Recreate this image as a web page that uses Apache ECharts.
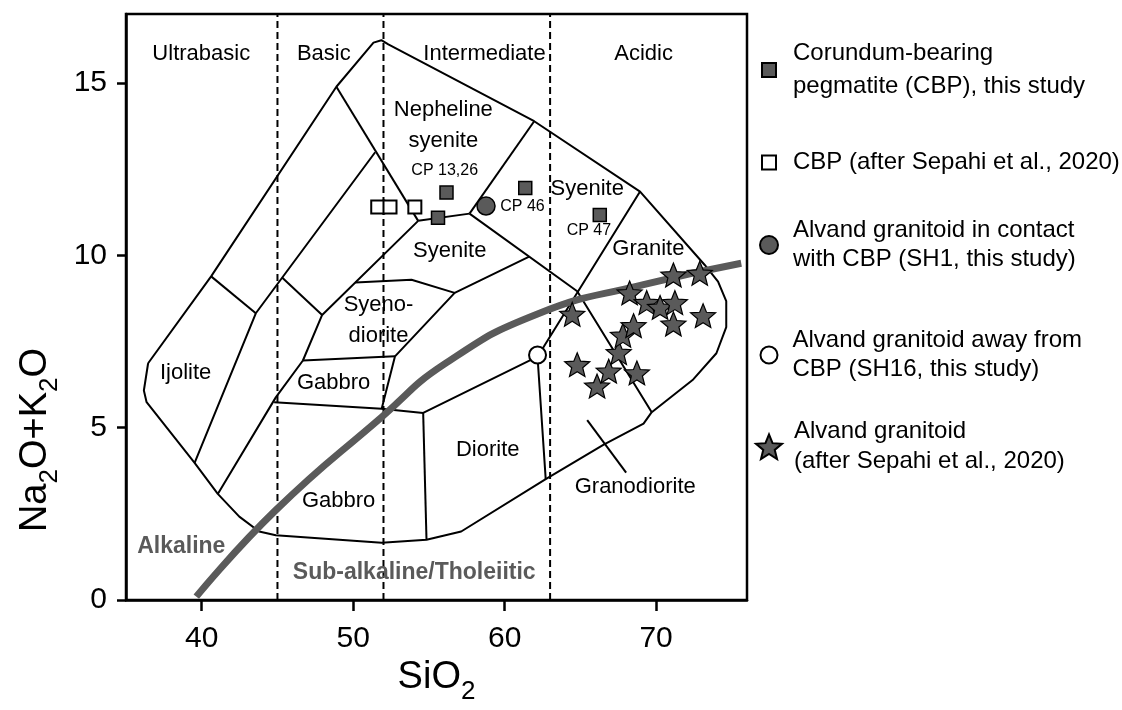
<!DOCTYPE html>
<html>
<head>
<meta charset="utf-8">
<script src="https://cdn.jsdelivr.net/npm/echarts@6/dist/echarts.min.js"></script>
<style>
  html, body { margin: 0; padding: 0; background: #fff; }
  #main { width: 1122px; height: 710px; }
</style>
</head>
<body>
<div id="main"></div>
<script>
// axis ticks
var xTicks = [40, 50, 60, 70];
var yTicks = [0, 5, 10, 15];

// SiO2 limits: ultrabasic | basic | intermediate | acidic
var silicaLimits = [45, 52, 63];

// TAS field boundaries (SiO2, Na2O+K2O)
var outerBoundary = [
  [36.46, 6.87], [40.62, 9.39], [48.89, 14.89], [51.34, 16.17], [51.86, 16.24], [52.32, 16.12],
  [61.95, 13.89], [68.94, 11.85], [73.21, 9.72], [74.09, 9.24], [74.63, 8.67], [74.63, 7.92],
  [73.98, 7.16], [72.45, 6.40], [69.71, 5.45], [69.17, 5.12], [66.54, 4.51], [62.71, 3.51],
  [57.13, 1.99], [54.84, 1.75], [51.88, 1.66], [44.89, 1.88], [43.79, 1.99], [42.48, 2.42],
  [41.06, 3.08], [39.53, 3.98], [36.36, 5.74], [36.18, 6.08], [36.46, 6.87]
];
var ijoliteTop = [[40.62, 9.39], [43.57, 8.32]];
var foidLine = [[51.45, 12.99], [43.57, 8.32], [39.53, 3.98]];
var nephSyeniteLeft = [[48.89, 14.89], [54.29, 11.00]];
var alkGabbroTop = [[45.32, 9.35], [47.95, 8.27]];
var syenodioriteLeft = [[54.29, 11.00], [47.95, 8.27], [46.68, 6.95], [44.89, 5.88], [41.06, 3.08]];
var nephSyeniteBase = [[54.29, 11.00], [57.68, 11.21]];
var syeniteDivide = [[57.68, 11.21], [61.95, 13.89]];
var graniteBase = [[57.68, 11.21], [64.79, 8.96], [69.71, 5.45]];
var syenodioriteTop = [[50.14, 9.21], [53.85, 9.29], [56.70, 8.91], [61.62, 9.96]];
var syenodioriteRight = [[56.70, 8.91], [52.76, 7.07], [51.88, 5.55]];
var gabbroTop = [[46.68, 6.95], [52.76, 7.07]];
var gabbroBase = [[44.78, 5.74], [51.88, 5.55], [54.62, 5.43], [62.17, 7.06]];
var dioriteLeft = [[54.62, 5.43], [54.84, 1.75]];
var dioriteRight = [[62.71, 3.51], [62.17, 7.06], [68.94, 11.85]];
var granodioriteLeader = [[65.45, 5.22], [68.02, 3.70]];

// alkaline / sub-alkaline divide
var alkalineDivide = [
  [39.64, 0.10], [44.89, 2.61], [51.88, 5.31], [56.04, 6.85], [62.17, 8.30], [69.17, 9.15], [75.62, 9.77]
];

// samples
var cbpThisStudy = [[56.16, 11.82], [61.36, 11.95], [66.28, 11.17], [55.60, 11.09]];
var cbpSepahi = [[51.62, 11.40], [52.43, 11.40], [54.07, 11.40]];
var sh1 = [[58.77, 11.43]];
var sh16 = [[62.17, 7.11]];
var alvandSepahi = [
  [64.46, 8.29], [64.79, 6.83], [66.10, 6.21], [66.87, 6.64], [67.53, 7.18], [67.81, 7.68],
  [68.51, 7.96], [68.73, 6.59], [68.25, 8.91], [69.38, 8.63], [70.26, 8.49], [71.24, 8.63],
  [71.14, 8.01], [71.14, 9.43], [72.88, 9.48], [73.10, 8.25]
];

// text labels [SiO2, Na2O+K2O, text]
var classLabels = [
  [39.97, 15.83, 'Ultrabasic'], [48.06, 15.83, 'Basic'], [58.67, 15.83, 'Intermediate'], [69.17, 15.83, 'Acidic']
];
var fieldLabels = [
  [55.95, 13.77, 'Nepheline\nsyenite'], [65.45, 11.92, 'Syenite'], [69.49, 10.19, 'Granite'],
  [56.37, 10.12, 'Syenite'], [51.67, 8.11, 'Syeno-\ndiorite'], [38.94, 6.59, 'Ijolite'],
  [48.71, 6.29, 'Gabbro'], [58.88, 4.36, 'Diorite'], [68.62, 3.27, 'Granodiorite'], [49.04, 2.89, 'Gabbro']
];
var sampleLabels = [[56.04, 12.47, 'CP 13,26'], [61.18, 11.40, 'CP 46'], [65.56, 10.71, 'CP 47']];
var seriesLabels = [[38.65, 1.56, 'Alkaline'], [54.03, 0.81, 'Sub-alkaline/Tholeiitic']];

var legendNames = {
  cbp: 'Corundum-bearing\npegmatite (CBP), this study',
  cbpS: 'CBP (after Sepahi et al., 2020)',
  sh1: 'Alvand granitoid in contact\nwith CBP (SH1, this study)',
  sh16: 'Alvand granitoid away from\nCBP (SH16, this study)',
  alv: 'Alvand granitoid\n(after Sepahi et al., 2020)'
};

var FONT = 'Liberation Sans, Arial, sans-serif';
var STAR = 'path://M50,0L62.93,32.2L97.55,34.55L70.92,56.8L79.39,90.45L50,72L20.61,90.45L29.08,56.8L2.45,34.55L37.07,32.2Z';
var GREY = '#5a5a5a';

var chart = echarts.init(document.getElementById('main'));

function boundary(data, extra) {
  var s = {
    type: 'line', data: data, symbol: 'none', silent: true, z: 2,
    lineStyle: { color: '#000', width: 2 }
  };
  return Object.assign(s, extra || {});
}

function textSeries(data, style) {
  return {
    type: 'scatter', data: data, symbolSize: 1, silent: true, z: 10,
    itemStyle: { color: 'transparent' },
    label: Object.assign({
      show: true, position: 'inside', color: '#000', fontFamily: FONT,
      textBorderWidth: 0, opacity: 1,
      formatter: function (p) { return p.value[2]; }
    }, style)
  };
}

var series = [];
silicaLimits.forEach(function (x) {
  series.push(boundary([[x, 0], [x, 17]], { lineStyle: { color: '#000', width: 2, type: [7, 4] } }));
});
[outerBoundary, ijoliteTop, foidLine, nephSyeniteLeft, alkGabbroTop, syenodioriteLeft, nephSyeniteBase,
 syeniteDivide, graniteBase, syenodioriteTop, syenodioriteRight, gabbroTop, gabbroBase, dioriteLeft,
 dioriteRight, granodioriteLeader].forEach(function (d) { series.push(boundary(d)); });

series.push({
  type: 'line', data: alkalineDivide, symbol: 'none', smooth: 0.5, silent: true, z: 3,
  lineStyle: { color: GREY, width: 7 }
});

series.push({
  name: 'cbp', type: 'scatter', data: cbpThisStudy, symbol: 'rect', symbolSize: 13, z: 5,
  itemStyle: { color: GREY, borderColor: '#000', borderWidth: 1.5, opacity: 1 }
});
series.push({
  name: 'cbpS', type: 'scatter', data: cbpSepahi, symbol: 'rect', symbolSize: 13, z: 5,
  itemStyle: { color: '#fff', borderColor: '#000', borderWidth: 2, opacity: 1 }
});
series.push({
  name: 'sh1', type: 'scatter', data: sh1, symbol: 'circle', symbolSize: 18, z: 5,
  itemStyle: { color: GREY, borderColor: '#000', borderWidth: 1.5, opacity: 1 }
});
series.push({
  name: 'sh16', type: 'scatter', data: sh16, symbol: 'circle', symbolSize: 17, z: 5,
  itemStyle: { color: '#fff', borderColor: '#000', borderWidth: 2, opacity: 1 }
});
series.push({
  name: 'alv', type: 'scatter', data: alvandSepahi, symbol: STAR, symbolSize: 25, symbolKeepAspect: true, z: 5,
  itemStyle: { color: GREY, borderColor: '#000', borderWidth: 1.2, opacity: 1 }
});

series.push(textSeries(classLabels, { fontSize: 22 }));
series.push(textSeries(fieldLabels, { fontSize: 22, lineHeight: 31 }));
series.push(textSeries(sampleLabels, { fontSize: 16 }));
series.push(textSeries(seriesLabels, { fontSize: 23, fontWeight: 'bold', color: GREY }));

function legendItem(name, top, size, padTop, lineHeight, padLeft) {
  return {
    data: [name], left: 768 - size / 2, top: top, padding: 0,
    itemWidth: size, itemHeight: size, selectedMode: false,
    formatter: function (n) { return legendNames[n]; },
    textStyle: {
      fontSize: 24, fontFamily: FONT, color: '#000', lineHeight: lineHeight,
      padding: [padTop, 0, 0, padLeft]
    }
  };
}

var option = {
  animation: false,
  backgroundColor: '#fff',
  grid: {
    left: 126, right: 375, top: 14, bottom: 98,
    show: true, borderColor: '#000', borderWidth: 2.5, backgroundColor: 'transparent'
  },
  xAxis: {
    type: 'value', min: 35, max: 76,
    name: '{a|SiO}{s|2}', nameLocation: 'middle', nameGap: 56,
    nameTextStyle: {
      rich: {
        a: { fontSize: 38, fontFamily: FONT, color: '#000', padding: [0, 0, 8, 0] },
        s: { fontSize: 26, fontFamily: FONT, color: '#000', verticalAlign: 'bottom' }
      }
    },
    axisLine: { onZero: false, lineStyle: { color: '#000', width: 2.5 } },
    axisTick: { length: 11, lineStyle: { color: '#000', width: 2.5 }, customValues: xTicks },
    axisLabel: { fontSize: 30, fontFamily: FONT, color: '#000', margin: 24, customValues: xTicks },
    splitLine: { show: false }
  },
  yAxis: {
    type: 'value', min: 0, max: 17,
    axisLine: { onZero: false, lineStyle: { color: '#000', width: 2.5 } },
    axisTick: { length: 9, lineStyle: { color: '#000', width: 2.5 }, customValues: yTicks },
    axisLabel: { fontSize: 30, fontFamily: FONT, color: '#000', margin: 19, customValues: yTicks },
    splitLine: { show: false }
  },
  legend: [
    legendItem('cbp', 37, 14, 0, 33, 12),
    legendItem('cbpS', 148, 14, 0, 29, 12),
    legendItem('sh1', 209, 18, 15, 28.5, 10),
    legendItem('sh16', 326.6, 17, 0, 28.4, 10),
    legendItem('alv', 401.7, 26, 30, 30, 7)
  ],
  graphic: [{
    type: 'text', x: 40, y: 440, rotation: Math.PI / 2, silent: true,
    style: {
      text: '{a|Na}{s|2}{a|O+K}{s|2}{a|O}', align: 'center', verticalAlign: 'middle',
      rich: {
        a: { fontSize: 38, fontFamily: FONT, fill: '#000', padding: [0, 0, 8, 0] },
        s: { fontSize: 26, fontFamily: FONT, fill: '#000', verticalAlign: 'bottom' }
      }
    }
  }],
  series: series
};

chart.setOption(option);
</script>
</body>
</html>
